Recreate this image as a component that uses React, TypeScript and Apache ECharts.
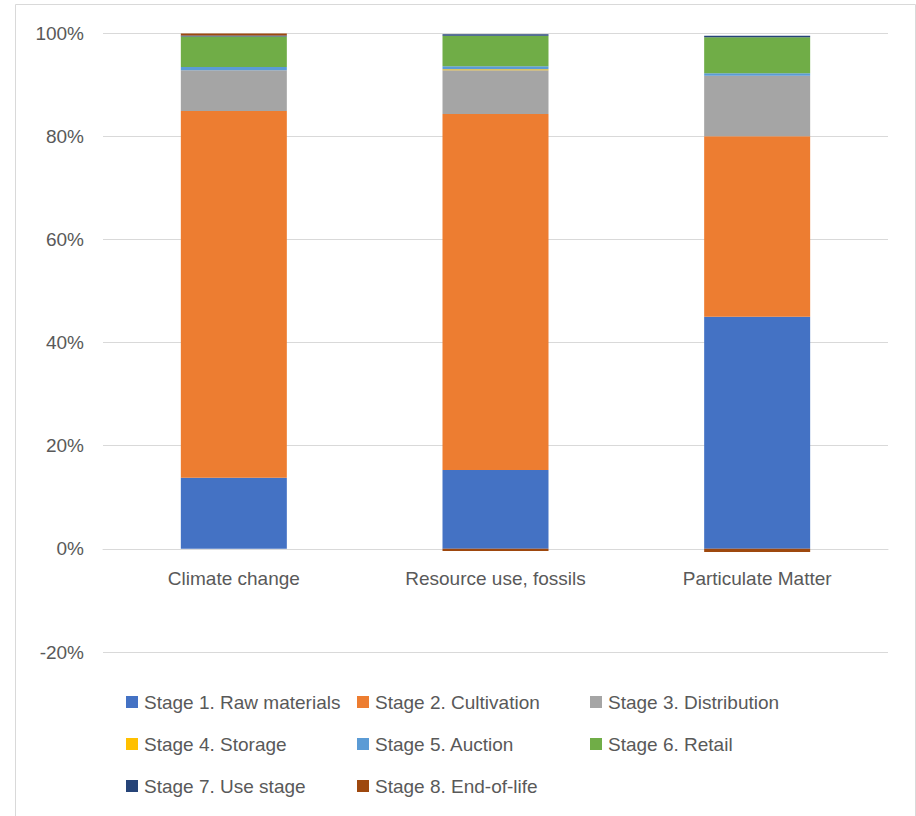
import React, { useEffect, useRef } from "react";
import * as echarts from "echarts";

const categories = ["Climate change", "Resource use, fossils", "Particulate Matter"];
const stageNames = [
  "Stage 1. Raw materials",
  "Stage 2. Cultivation",
  "Stage 3. Distribution",
  "Stage 4. Storage",
  "Stage 5. Auction",
  "Stage 6. Retail",
  "Stage 7. Use stage",
  "Stage 8. End-of-life",
];
const stage1 = [13.8, 15.3, 45.0];
const stage2 = [71.1, 69.0, 35.0];
const stage3 = [7.9, 8.5, 11.7];
const stage4 = [0, 0.15, 0];
const stage5 = [0.6, 0.6, 0.5];
const stage6 = [5.9, 5.9, 7.0];
const stage7 = [0.2, 0.3, 0.25];
const stage8 = [0.4, -0.4, -0.6];
const stageValues = [stage1, stage2, stage3, stage4, stage5, stage6, stage7, stage8];
const stageColors = ["#4472C4", "#ED7D31", "#A5A5A5", "#FFC000", "#5B9BD5", "#70AD47", "#264478", "#9E480E"];

const FONT = "Liberation Sans";
const TXT = "#595959";

// legend layout: [left, centerY]
const legendPos = [
  [126, 702], [357, 702], [590, 702],
  [126, 744], [357, 744], [590, 744],
  [126, 786], [357, 786],
];

export default function App() {
  const ref = useRef<HTMLDivElement>(null);
  useEffect(() => {
    const chart = echarts.init(ref.current!, null, { renderer: "svg" });
    chart.setOption({
      animation: false,
      backgroundColor: "#ffffff",
      textStyle: { fontFamily: FONT },
      grid: { left: 103, right: 28, top: 33, bottom: 164 },
      xAxis: {
        type: "category",
        data: categories,
        offset: -103.2,
        axisLine: { show: true, onZero: false, lineStyle: { color: "#D9D9D9", width: 1 } },
        axisTick: { show: false },
        axisLabel: { color: TXT, fontSize: 19, fontFamily: FONT, margin: 20 },
      },
      yAxis: {
        type: "value",
        min: -20,
        max: 100,
        interval: 20,
        axisLine: { show: false },
        axisTick: { show: false },
        splitLine: { lineStyle: { color: "#D9D9D9", width: 1 } },
        axisLabel: { color: TXT, fontSize: 19, fontFamily: FONT, margin: 19, formatter: "{value}%" },
      },
      legend: stageNames.map((name, i) => ({
        data: [name],
        left: legendPos[i][0],
        top: legendPos[i][1] - 11,
        padding: 0,
        itemWidth: 12,
        itemHeight: 12,
        icon: "rect",
        selectedMode: false,
        textStyle: { color: TXT, fontSize: 19, fontFamily: FONT, lineHeight: 22, padding: [0, 0, 0, 1] },
      })),
      graphic: [
        {
          type: "rect",
          shape: { x: 15.5, y: 4.5, width: 900, height: 830 },
          style: { fill: "none", stroke: "#D9D9D9", lineWidth: 1 },
          silent: true,
        },
      ],
      series: stageNames.map((name, i) => ({
        name,
        type: "bar",
        stack: "total",
        barWidth: 106,
        data: stageValues[i],
        itemStyle: { color: stageColors[i] },
      })),
    });
    return () => chart.dispose();
  }, []);
  return (
    <div
      ref={ref}
      style={{ position: "absolute", left: 0, top: 0, width: 916, height: 816 }}
    />
  );
}
